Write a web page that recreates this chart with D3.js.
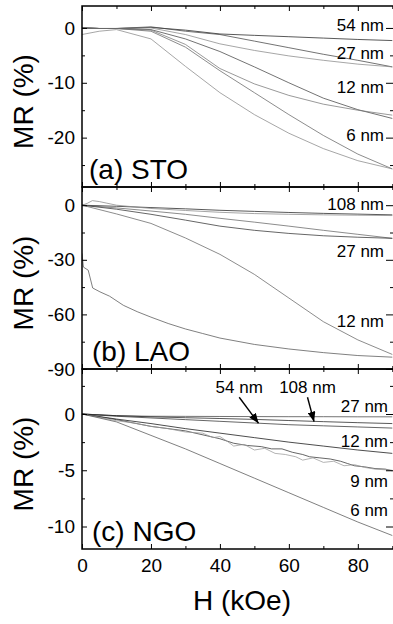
<!DOCTYPE html>
<html>
<head>
<meta charset="utf-8">
<script src="https://cdn.jsdelivr.net/npm/d3@7"></script>
<style>
  body { margin: 0; background: #fff; }
  svg { display: block; font-family: "Liberation Sans", Arial, sans-serif; }
</style>
</head>
<body>
<div id="chart"></div>
<script>
// ---- data (H in kOe, MR in %) ----

// (a) STO
const stoField = [0, 5, 10, 20, 30, 40, 50, 60, 70, 80, 90];
const sto54nm  = [0, -0.1, -0.1, 0.1, -0.4, -1.1, -1.35, -1.6, -1.85, -2.1, -2.3];
const sto27nmA = [0, -0.1, -0.1, 0.2, -0.6, -1.2, -2.4, -3.6, -4.8, -5.9, -7.1];
const sto27nmB = [0, -0.1, -0.1, 0.0, -1.2, -2.9, -4.1, -5.1, -5.9, -6.6, -7.1];
const sto12nmA = [0, -0.1, -0.1, -0.3, -2.0, -4.3, -7.1, -10.0, -12.8, -14.9, -16.5];
const sto12nmB = [0, -0.1, -0.1, -0.4, -3.0, -7.4, -10.2, -12.3, -13.9, -15.0, -15.9];
const sto6nmA  = [0, -0.1, -0.1, -0.6, -3.5, -7.8, -11.8, -15.8, -19.6, -23.0, -25.7];
const sto6nmB  = [-1.2, -0.6, -0.3, -2.0, -7.0, -11.8, -15.8, -19.2, -22.0, -24.2, -25.7];
const stoLabels = ["54 nm", "27 nm", "12 nm", "6 nm"];
const stoLabelMR = [-0.6, -5.7, -11.9, -20.6];

// (b) LAO
const laoField = [0, 10, 20, 30, 40, 50, 60, 70, 80, 90];
const lao108nm = [0, -0.6, -1.3, -2.0, -2.8, -3.4, -4.0, -4.5, -4.9, -5.3];
const lao27nmA = [0, -1.5, -3.2, -5.0, -7.2, -9.3, -11.5, -13.8, -16.0, -18.2];
const lao27nmB = [0, -2.2, -5.0, -8.2, -11.5, -13.8, -15.5, -16.8, -17.6, -18.2];
const lao12nm  = [0, -4.8, -10, -18, -27, -38, -51, -64, -74, -82];
const laoBumpField = [0, 1.5, 3, 5, 7, 10, 20, 30, 40, 50, 60, 70, 80, 90];
const laoBump      = [0, 1.0, 2.5, 2.0, 1.2, 0, -1.8, -2.9, -3.9, -4.6, -5.0, -5.3, -5.5, -5.7];
const laoLowField = [0, 0.4, 1.8, 3.1, 5.2, 8, 12, 16, 20, 25, 30, 35, 40, 50, 60, 70, 80, 90];
const laoLow      = [-26.5, -34, -35.7, -45.5, -47.6, -50, -55, -58.5, -61.5, -65, -68, -70.5, -73, -76.5, -79, -81, -82.6, -83.5];
const laoLabels = ["108 nm", "27 nm", "12 nm"];
const laoLabelMR = [-2.6, -28.5, -67];

// (c) NGO
const ngoField = [0, 10, 20, 30, 40, 50, 60, 70, 80, 90];
const ngo27nm  = [0, -0.15, -0.2, -0.21, -0.22, -0.23, -0.24, -0.24, -0.25, -0.25];
const ngo108nm = [0, -0.15, -0.25, -0.33, -0.4, -0.48, -0.58, -0.68, -0.77, -0.85];
const ngo54nm  = [0, -0.2, -0.35, -0.5, -0.65, -0.8, -0.95, -1.05, -1.15, -1.25];
const ngo12nm  = [0, -0.45, -0.85, -1.3, -1.7, -2.1, -2.5, -2.85, -3.2, -3.5];
const ngo6nm   = [0, -0.7, -1.9, -3.1, -4.4, -5.7, -7.0, -8.3, -9.6, -10.8];
const ngo9nmAField = [0, 10, 20, 30, 40, 44, 48, 52, 55, 58, 61, 64, 66, 69, 72, 75, 77, 79, 82, 85, 88, 90];
const ngo9nmA      = [0, -0.5, -1.1, -1.5, -2.2, -2.6, -2.8, -2.9, -3.1, -3.1, -3.4, -3.6, -3.8, -3.9, -4.0, -4.2, -4.4, -4.6, -4.7, -4.85, -4.9, -5.05];
const ngo9nmBField = [0, 5, 10, 15, 20, 25, 30, 35, 38, 40, 42, 44, 47, 50, 53, 56, 59, 62, 64, 67, 70, 73, 76, 79, 82, 85, 90];
const ngo9nmB      = [0, -0.3, -0.6, -0.8, -1.1, -1.3, -1.6, -1.7, -2.1, -2.0, -2.4, -2.85, -2.7, -3.2, -3.05, -3.5, -3.6, -3.8, -4.1, -3.9, -4.3, -4.2, -4.6, -4.5, -4.75, -4.9, -5.0];
const ngoLabels = ["27 nm", "12 nm", "9 nm", "6 nm"];
const ngoLabelMR = [0.18, -2.93, -6.49, -9.07];
const ngoArrowLabels = ["54 nm", "108 nm"];
const ngoArrowTipH  = [51.2, 67.3];
const ngoArrowTipMR = [-0.82, -0.68];
const ngoArrowTailH = [45.6, 65.4];
const ngoArrowTailMR = [1.49, 1.49];

const xTickValues = [0, 20, 40, 60, 80];
const xMinorValues = [10, 30, 50, 70, 90];

// ---- layout ----
const width = 393, height = 624;
const left = 82, right = 394;
const fontTick = 19, fontBig = 28, fontNm = 17;

const zip = (hs, ms) => hs.map((h, i) => ({ h: h, mr: ms[i] }));

const panels = [
  { top: 6, bottom: 187, domain: [-29, 4], major: [0, -10, -20], minor: [-5, -15, -25],
    title: "(a) STO", titleX: 89, labelX: 384,
    series: [
      { pts: zip(stoField, sto54nm), color: "#222" },
      { pts: zip(stoField, sto27nmA), color: "#444" },
      { pts: zip(stoField, sto27nmB), color: "#888" },
      { pts: zip(stoField, sto12nmA), color: "#444" },
      { pts: zip(stoField, sto12nmB), color: "#777" },
      { pts: zip(stoField, sto6nmA), color: "#666" },
      { pts: zip(stoField, sto6nmB), color: "#888" }
    ],
    labels: stoLabels, labelMR: stoLabelMR },
  { top: 187, bottom: 369, domain: [-90, 10], major: [0, -30, -60, -90], minor: [-15, -45, -75],
    title: "(b) LAO", titleX: 92, labelX: 384,
    series: [
      { pts: zip(laoField, lao108nm), color: "#222" },
      { pts: zip(laoBumpField, laoBump), color: "#888" },
      { pts: zip(laoField, lao27nmA), color: "#666" },
      { pts: zip(laoField, lao27nmB), color: "#333" },
      { pts: zip(laoField, lao12nm), color: "#666" },
      { pts: zip(laoLowField, laoLow), color: "#555" }
    ],
    labels: laoLabels, labelMR: laoLabelMR },
  { top: 369, bottom: 549, domain: [-12, 4], major: [0, -5, -10], minor: [2.5, -2.5, -7.5],
    title: "(c) NGO", titleX: 92, labelX: 388,
    series: [
      { pts: zip(ngoField, ngo27nm), color: "#444" },
      { pts: zip(ngoField, ngo108nm), color: "#222" },
      { pts: zip(ngoField, ngo54nm), color: "#333" },
      { pts: zip(ngoField, ngo12nm), color: "#111" },
      { pts: zip(ngo9nmAField, ngo9nmA), color: "#333" },
      { pts: zip(ngo9nmBField, ngo9nmB), color: "#999" },
      { pts: zip(ngoField, ngo6nm), color: "#555" }
    ],
    labels: ngoLabels, labelMR: ngoLabelMR }
];

const x = d3.scaleLinear().domain([0, 90]).range([left, 392.3]);

const svg = d3.select("#chart").append("svg")
  .attr("width", width).attr("height", height);

const defs = svg.append("defs");
defs.append("marker")
  .attr("id", "head")
  .attr("viewBox", "0 0 10 8")
  .attr("refX", 10).attr("refY", 4)
  .attr("markerWidth", 10).attr("markerHeight", 8)
  .attr("markerUnits", "userSpaceOnUse")
  .attr("orient", "auto")
  .append("path").attr("d", "M0,0L10,4L0,8Z").attr("fill", "#000");

panels.forEach((p, i) => {
  const y = d3.scaleLinear().domain(p.domain).range([p.bottom, p.top]);
  const g = svg.append("g");

  // clip for curves
  defs.append("clipPath").attr("id", "clip" + i)
    .append("rect").attr("x", left).attr("y", p.top)
    .attr("width", right - left).attr("height", p.bottom - p.top);

  const line = d3.line().x(d => x(d.h)).y(d => y(d.mr));

  g.append("g").attr("clip-path", "url(#clip" + i + ")")
    .selectAll("path").data(p.series).enter()
    .append("path")
    .attr("d", d => line(d.pts))
    .attr("fill", "none")
    .attr("stroke", d => d.color)
    .attr("stroke-width", 0.75);

  // left axis (inward ticks)
  g.append("g").attr("transform", `translate(${left},0)`)
    .call(d3.axisLeft(y).tickValues(p.major).tickSize(-5).tickPadding(7).tickFormat(d => String(d)))
    .call(a => a.select(".domain").remove())
    .call(a => a.selectAll("text").attr("font-size", fontTick).attr("font-family", null).attr("fill", "#000"));
  g.append("g").attr("transform", `translate(${left},0)`)
    .call(d3.axisLeft(y).tickValues(p.minor).tickSize(-3).tickFormat(""))
    .call(a => a.select(".domain").remove());

  // right axis ticks
  g.append("g").attr("transform", `translate(${right},0)`)
    .call(d3.axisRight(y).tickValues(p.major).tickSize(-8).tickFormat(""))
    .call(a => a.select(".domain").remove());
  g.append("g").attr("transform", `translate(${right},0)`)
    .call(d3.axisRight(y).tickValues(p.minor).tickSize(-4).tickFormat(""))
    .call(a => a.select(".domain").remove());

  // top and bottom ticks
  [p.top, p.bottom].forEach((yy, k) => {
    const ax = k === 0 ? d3.axisTop : d3.axisBottom;
    g.append("g").attr("transform", `translate(0,${yy})`)
      .call(ax(x).tickValues(xTickValues).tickSize(-5).tickFormat(""))
      .call(a => a.select(".domain").remove());
    g.append("g").attr("transform", `translate(0,${yy})`)
      .call(ax(x).tickValues(xMinorValues).tickSize(-3).tickFormat(""))
      .call(a => a.select(".domain").remove());
  });

  // frame
  g.append("rect")
    .attr("x", left).attr("y", p.top)
    .attr("width", right - left).attr("height", p.bottom - p.top)
    .attr("fill", "none").attr("stroke", "#000").attr("stroke-width", 1.5);

  // y title
  g.append("text")
    .attr("transform", `translate(33,${(p.top + p.bottom) / 2 + 5}) rotate(-90)`)
    .attr("text-anchor", "middle")
    .attr("font-size", fontBig)
    .text("MR (%)");

  // panel title
  g.append("text")
    .attr("x", p.titleX).attr("y", p.bottom - 8)
    .attr("font-size", fontBig)
    .text(p.title);

  // thickness labels
  g.selectAll(".nm").data(p.labels).enter()
    .append("text").attr("class", "nm")
    .attr("x", p.labelX)
    .attr("y", (d, j) => y(p.labelMR[j]))
    .attr("text-anchor", "end")
    .attr("font-size", fontNm)
    .text(d => d);

  if (i === 2) {
    // arrows to 54 nm and 108 nm curves
    ngoArrowLabels.forEach((lab, j) => {
      g.append("line")
        .attr("x1", x(ngoArrowTailH[j])).attr("y1", y(ngoArrowTailMR[j]))
        .attr("x2", x(ngoArrowTipH[j])).attr("y2", y(ngoArrowTipMR[j]))
        .attr("stroke", "#000").attr("stroke-width", 1.4)
        .attr("marker-end", "url(#head)");
      g.append("text")
        .attr("x", x(ngoArrowTailH[j])).attr("y", y(ngoArrowTailMR[j]) - 4)
        .attr("text-anchor", "middle")
        .attr("font-size", fontNm)
        .text(lab);
    });

    // x tick labels
    g.append("g").attr("transform", `translate(0,${p.bottom})`)
      .call(d3.axisBottom(x).tickValues(xTickValues).tickSize(0).tickPadding(10).tickFormat(d => String(d)))
      .call(a => a.select(".domain").remove())
      .call(a => a.selectAll("text").attr("font-size", fontTick).attr("font-family", null).attr("fill", "#000"));
  }
});

svg.append("text")
  .attr("x", 242).attr("y", 610)
  .attr("text-anchor", "middle")
  .attr("font-size", fontBig)
  .text("H (kOe)");
</script>
</body>
</html>
